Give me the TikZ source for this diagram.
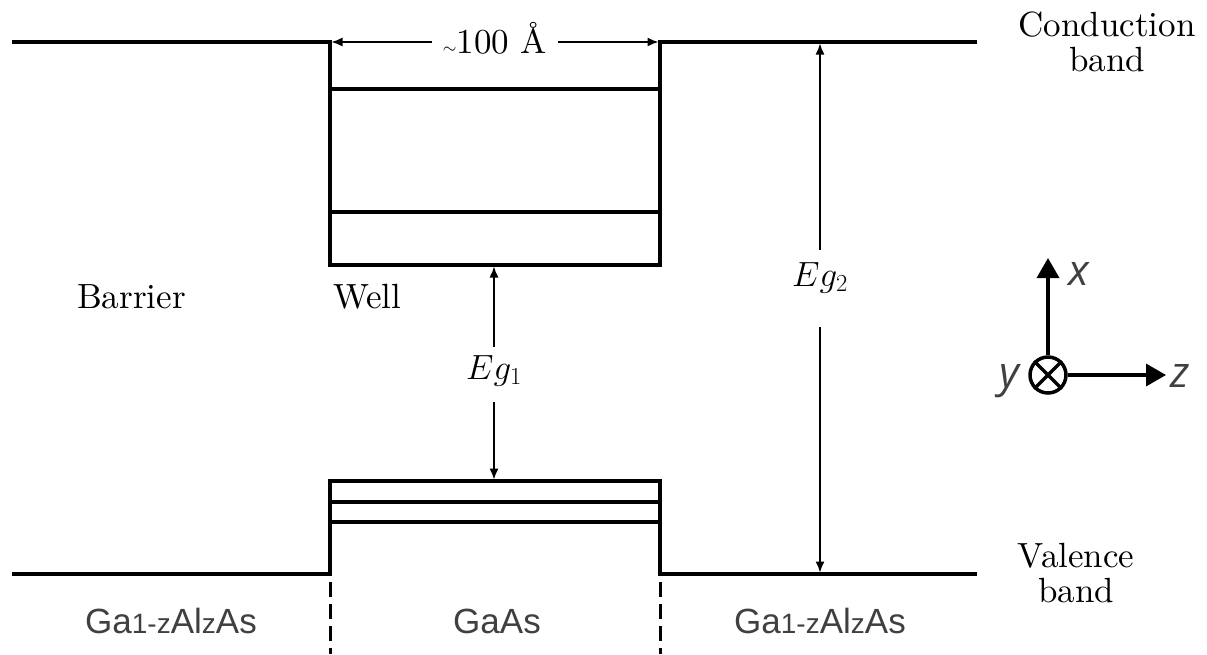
\RequirePackage{fix-cm}
\documentclass[tikz,border=0pt]{standalone}
\usepackage{fontspec}
\setmainfont{lmroman10-regular}[Extension=.otf]
\usetikzlibrary{arrows.meta}
\newfontfamily\gafont{Liberation Sans}
\newfontfamily\axfont{Open Sans}
\definecolor{txtgray}{HTML}{404040}
\newcommand{\smallpart}[1]{{\fontsize{28}{28}\selectfont #1}}
\begin{document}
\begin{tikzpicture}[x=1pt,y=-1pt,
  band/.style={line width=3.2pt, line join=miter},
  dimarrow/.style={line width=1.4pt,-{Latex[length=11pt,width=9pt]}},
  axarrow/.style={line width=3.5pt,-{Triangle[length=20pt,width=22pt]}},
  lbl/.style={font=\fontsize{35}{35}\selectfont, inner sep=0pt},
  galbl/.style={font=\gafont\fontsize{35}{35}\selectfont, text=txtgray, inner sep=0pt, anchor=base},
  axlbl/.style={font=\axfont\itshape\fontsize{43}{43}\selectfont, text=txtgray, inner sep=0pt, anchor=base},
  boundary/.style={line width=3pt, dash pattern=on 15pt off 7pt}
]
\useasboundingbox (0,0) rectangle (1207,654);

% conduction band
\coordinate (cb0) at (12,42);
\coordinate (cb1) at (330,42);
\coordinate (cb2) at (660,42);
\coordinate (cb3) at (977,42);
\coordinate (w1) at (330,265);
\coordinate (w2) at (660,265);
\draw[band] (cb0) -- (cb1) -- (w1) -- (w2) -- (cb2) -- (cb3);
\coordinate (e1a) at (330,89);  \coordinate (e1b) at (660,89);
\coordinate (e2a) at (330,212); \coordinate (e2b) at (660,212);
\draw[band] (e1a) -- (e1b);
\draw[band] (e2a) -- (e2b);

% valence band
\coordinate (vb0) at (12,574);
\coordinate (vb1) at (330,574);
\coordinate (v1) at (330,481);
\coordinate (v2) at (660,481);
\coordinate (vb2) at (660,574);
\coordinate (vb3) at (977,574);
\draw[band] (vb0) -- (vb1) -- (v1) -- (v2) -- (vb2) -- (vb3);
\coordinate (h1a) at (330,502); \coordinate (h1b) at (660,502);
\coordinate (h2a) at (330,522); \coordinate (h2b) at (660,522);
\draw[band] (h1a) -- (h1b);
\draw[band] (h2a) -- (h2b);

% boundaries
\coordinate (d1a) at (330,582); \coordinate (d1b) at (330,654);
\coordinate (d2a) at (660,582); \coordinate (d2b) at (660,654);
\draw[boundary] (d1a) -- (d1b);
\draw[boundary] (d2a) -- (d2b);

% width arrow
\node[lbl, inner xsep=11pt, text height=30pt, text depth=8pt] (w100) at (495,42) {$\scriptscriptstyle\sim$100 \AA};
\coordinate (wl) at (331.5,42);
\coordinate (wr) at (658.5,42);
\draw[dimarrow] (w100.west) -- (wl);
\draw[dimarrow] (w100.east) -- (wr);

% Eg1
\node[lbl, anchor=base, text height=32pt, text depth=23pt] (eg1) at (494,379) {$Eg_1$};
\coordinate (eg1t) at (494,266.5);
\coordinate (eg1b) at (494,479.5);
\draw[dimarrow] (eg1.north) -- (eg1t);
\draw[dimarrow] (eg1.south) -- (eg1b);

% Eg2
\node[lbl, anchor=base, text height=36pt, text depth=41pt] (eg2) at (820,286) {$Eg_2$};
\coordinate (eg2t) at (820,43.5);
\coordinate (eg2b) at (820,572.5);
\draw[dimarrow] (eg2.north) -- (eg2t);
\draw[dimarrow] (eg2.south) -- (eg2b);

% band labels
\node[lbl, align=center] (cbl) at (1107,42) {Conduction\\band};
\node[lbl, align=center] (vbl) at (1076,573) {Valence\\band};
\node[lbl, anchor=base west] (barrier) at (77,308) {Barrier};
\node[lbl, anchor=base west] (well) at (333,308) {Well};

% material labels
\node[galbl] (mat1) at (171,633) {Ga\smallpart{1-z}Al\smallpart{z}As};
\node[galbl] (mat2) at (497,633) {GaAs};
\node[galbl] (mat3) at (820,633) {Ga\smallpart{1-z}Al\smallpart{z}As};

% axes
\node[circle, draw, line width=3.5pt, minimum size=36pt, inner sep=0pt] (yax) at (1048,375) {};
\draw[line width=3.5pt] (yax.north west) -- (yax.south east);
\draw[line width=3.5pt] (yax.north east) -- (yax.south west);
\coordinate (xtip) at (1048,258);
\coordinate (ztip) at (1166,375);
\draw[axarrow] (yax.north) -- (xtip);
\draw[axarrow] (yax.east) -- (ztip);
\node[axlbl] (xl) at (1079,285) {x};
\node[axlbl] (zl) at (1180,387) {z};
\node[axlbl] (yl) at (1009,387) {y};
\end{tikzpicture}
\end{document}
